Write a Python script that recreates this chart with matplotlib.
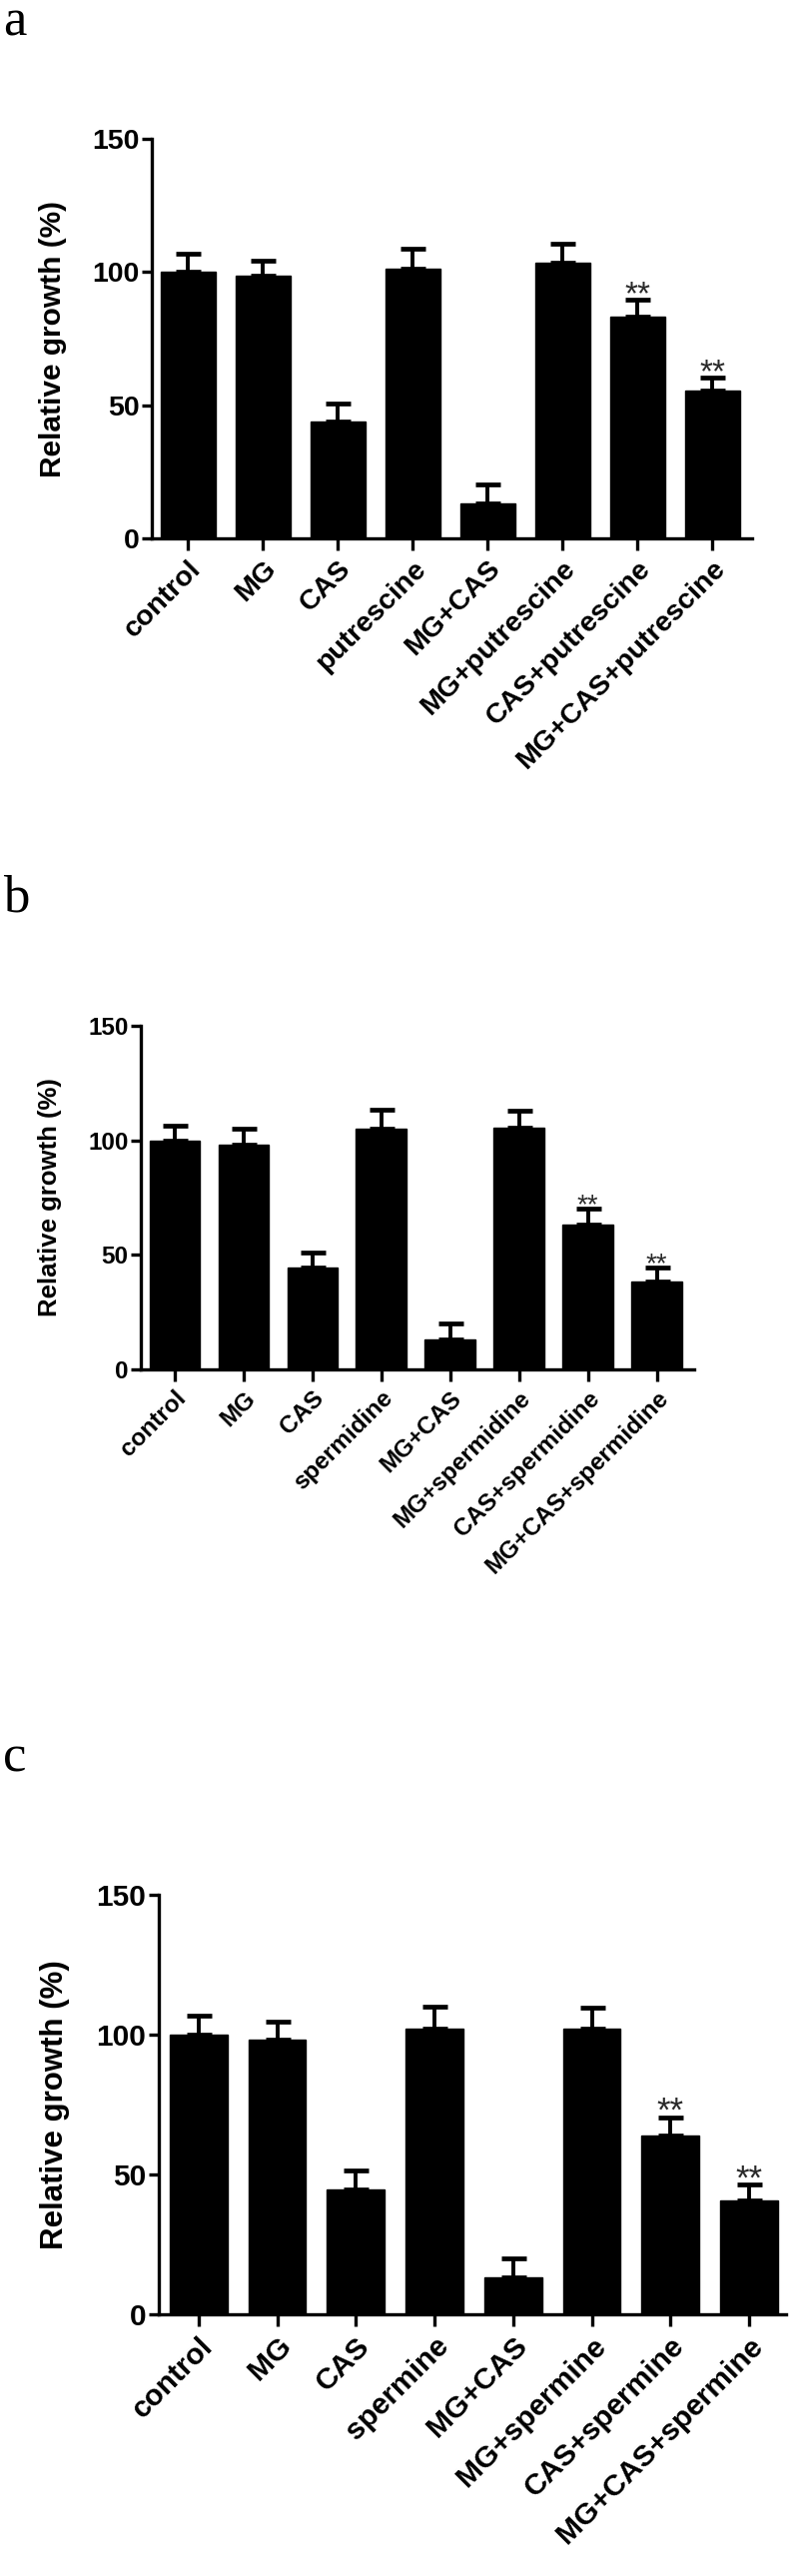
import matplotlib
matplotlib.use("Agg")
import matplotlib.pyplot as plt
import numpy as np

# ---------------- data ----------------
labels_a = ["control", "MG", "CAS", "putrescine", "MG+CAS",
            "MG+putrescine", "CAS+putrescine", "MG+CAS+putrescine"]
values_a = [100, 98.5, 44, 101.4, 13, 103.6, 83.3, 55.5]
errors_a = [6.7, 5.8, 6.6, 7.3, 7.1, 7.0, 6.4, 5.0]

labels_b = ["control", "MG", "CAS", "spermidine", "MG+CAS",
            "MG+spermidine", "CAS+spermidine", "MG+CAS+spermidine"]
values_b = [100, 98, 44.5, 105.2, 13.1, 105.4, 63.4, 38.4]
errors_b = [6.6, 7.0, 6.5, 8.0, 7.0, 7.6, 7.0, 6.1]

labels_c = ["control", "MG", "CAS", "spermine", "MG+CAS",
            "MG+spermine", "CAS+spermine", "MG+CAS+spermine"]
values_c = [100, 98.2, 44.5, 102.3, 13.2, 102.1, 64.0, 40.7]
errors_c = [6.8, 6.4, 6.8, 7.8, 6.8, 7.5, 6.5, 5.7]

signif_idx = [6, 7]
panel_letters = ["a", "b", "c"]
ylabel_text = "Relative growth (%)"
yticks = [0, 50, 100, 150]

# ---------------- layout ----------------
W, H = 800, 2579
fig = plt.figure(figsize=(W / 100, H / 100), dpi=100)

def px_axes(x0, x1, y_top, y_bot):
    return [x0 / W, (H - y_bot) / H, (x1 - x0) / W, (y_bot - y_top) / H]

panels = [
    dict(labels=labels_a, values=values_a, errors=errors_a,
         rect=px_axes(152, 753, 139, 539), xlim=(-0.48, 7.53),
         tfs=20.5, lfs=21.5, sfs=24, ylx=-0.141, letter_y=36),
    dict(labels=labels_b, values=values_b, errors=errors_b,
         rect=px_axes(141, 695, 1027, 1371), xlim=(-0.49, 7.54),
         tfs=17.5, lfs=18.5, sfs=20, ylx=-0.143, letter_y=912),
    dict(labels=labels_c, values=values_c, errors=errors_c,
         rect=px_axes(159, 787, 1897, 2317), xlim=(-0.506, 7.47),
         tfs=21.5, lfs=22.5, sfs=25, ylx=-0.142, letter_y=1774),
]

sans = ["Liberation Sans", "DejaVu Sans"]

for letter, p in zip(panel_letters, panels):
    ax = fig.add_axes(p["rect"])
    x = np.arange(len(p["labels"]))
    ax.bar(x, p["values"], width=0.733, color="black", edgecolor="black",
           linewidth=1, zorder=2)
    ax.errorbar(x, p["values"], yerr=[np.zeros(len(x)), p["errors"]],
                fmt="none", ecolor="black", elinewidth=2.8, capsize=9,
                capthick=3.4, zorder=3)
    for i in signif_idx:
        ax.annotate("**", xy=(x[i], p["values"][i] + p["errors"][i]),
                    xytext=(0, -3), textcoords="offset points",
                    ha="center", va="baseline", fontsize=p["sfs"],
                    color="#2a2a2a", family=sans, zorder=4)
    ax.set_xlim(*p["xlim"])
    ax.set_ylim(0, 150)
    ax.set_yticks(yticks)
    ax.set_yticklabels([str(t) for t in yticks], fontsize=p["tfs"],
                       fontweight="bold", family=sans)
    ax.set_xticks(x)
    ax.set_xticklabels(p["labels"], rotation=45, ha="right", va="top",
                       rotation_mode="anchor", fontsize=p["tfs"],
                       fontweight="bold", family=sans)
    ax.set_ylabel(ylabel_text, fontsize=p["lfs"], fontweight="bold",
                  family=sans)
    ax.yaxis.set_label_coords(p["ylx"], 0.5)
    for s in ["top", "right"]:
        ax.spines[s].set_visible(False)
    for s in ["left", "bottom"]:
        ax.spines[s].set_linewidth(2.4)
    ax.tick_params(axis="x", length=8.5, width=2.4, pad=4, direction="out")
    ax.tick_params(axis="y", length=7, width=2.4, pad=2, direction="out")
    ax.patch.set_alpha(0)

    fig.text(3 / W, 1 - p["letter_y"] / H, letter,
             family=["Liberation Serif", "DejaVu Serif"],
             fontsize=38, ha="left", va="baseline")

fig.savefig("out.png", dpi=100, facecolor="white")
